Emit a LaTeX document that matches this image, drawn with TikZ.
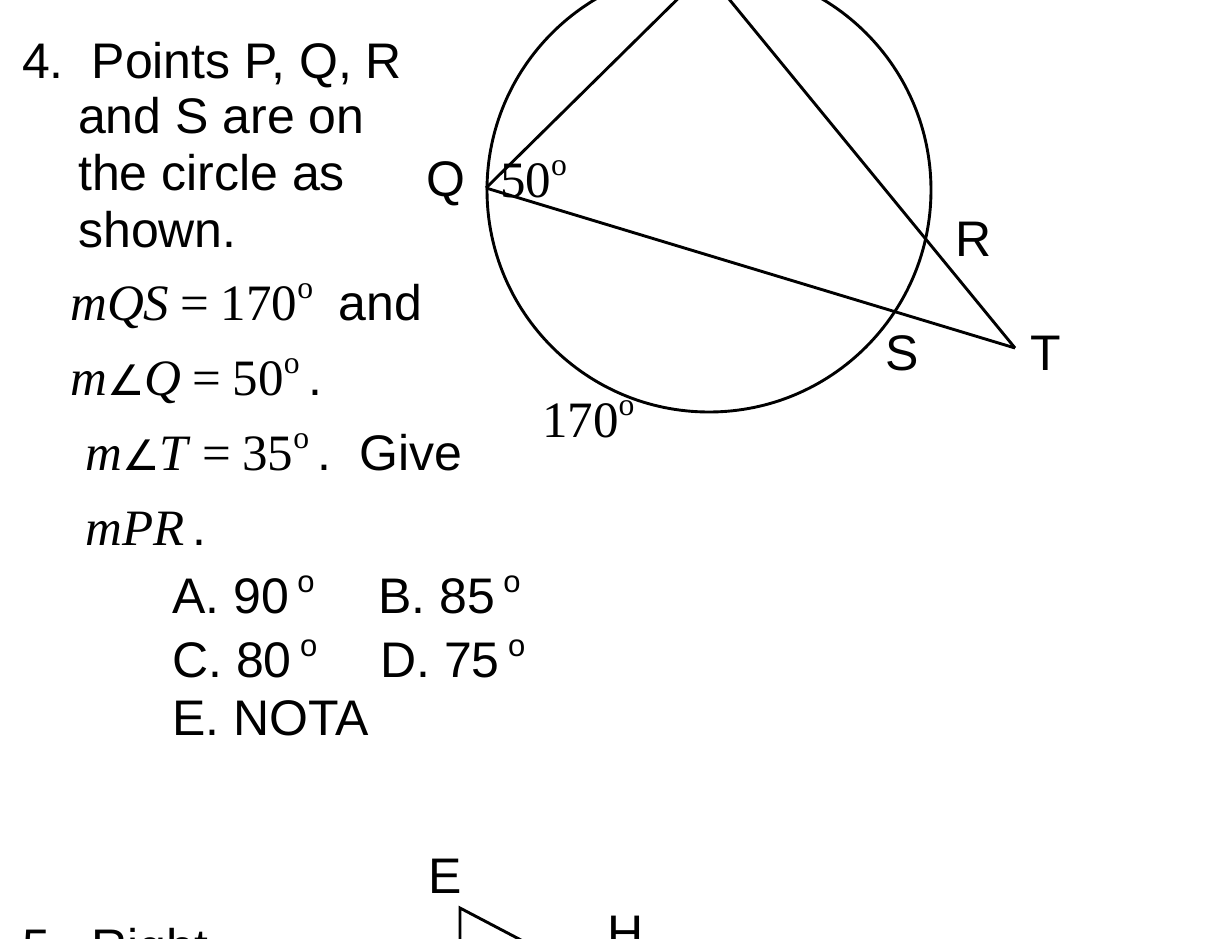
\documentclass[tikz,border=0pt]{standalone}
\usepackage{fontspec}
\setmainfont{Liberation Sans}
\newfontfamily\tnr{Liberation Serif}
\newfontfamily\dvs{DejaVu Sans}
\newcommand\dg{\raisebox{0.42em}{\scalebox{0.62}{o}}}
\newcommand\sx{\normalfont\fontsize{50bp}{58bp}\selectfont}
\newcommand\ang{{\dvs\fontsize{42bp}{58bp}\selectfont ∠}}
\begin{document}
\begin{tikzpicture}[x=1bp,y=-1bp,
  txt/.style={font=\fontsize{50bp}{58bp}\selectfont, inner sep=0pt, anchor=base west},
  mth/.style={font=\fontsize{51bp}{58bp}\selectfont\tnr, inner sep=0pt, anchor=base west},
  geo/.style={line width=2.9bp, line join=miter}]
\useasboundingbox (0,0) rectangle (1219,939);
\clip (0,0) rectangle (1219,939);
\fill[white] (0,0) rectangle (1219,939);
% question 4 text
\node[txt] (t1) at (22,78) {4.\ \ Points P, Q, R};
\node[txt] (t2) at (78,133) {and S are on};
\node[txt] (t3) at (78,190) {the circle as};
\node[txt] (t4) at (78,247) {shown.};
\node[mth] (t5) at (70,320) {\textit{mQS}\:=\:170\dg\ \ \sx and};
\node[mth] (t6) at (70,395) {\textit{m}\ang\textit{Q}\:=\:50\dg\,\sx .};
\node[mth] (t7) at (85,470) {\textit{m}\ang\textit{T}\:=\:35\dg\,\sx .\ \ Give};
\node[mth] (t8) at (85,545) {\textit{mPR}\,\sx .};
\node[txt] (oa) at (172,613) {A. 90\,\dg};
\node[txt] (ob) at (378,613) {B. 85\,\dg};
\node[txt] (oc) at (172,677) {C. 80\,\dg};
\node[txt] (od) at (380,677) {D. 75\,\dg};
\node[txt] (oe) at (172,735) {E. NOTA};
% figure
\coordinate (O) at (709,190);
\coordinate (P) at (706,-29);
\coordinate (Q) at (486,188);
\coordinate (T) at (1015,348);
\draw[geo] (O) circle[radius=222];
\draw[geo] (Q) -- (P) -- (T);
\draw[geo] (Q) -- (T);
\node[txt] (lQ) at (426,196) {Q};
\node[mth] (a50) at (500,197) {50\dg};
\node[txt] (lR) at (955,256) {R};
\node[txt] (lS) at (885,370) {S};
\node[txt] (lT) at (1030,370) {T};
\node[mth] (a170) at (542,437) {170\dg};
% question 5 (cut off)
\node[txt] (lE) at (428,893) {E};
\node[txt] (lH) at (607,950) {H};
\node[txt] (t9) at (22,964) {5.\ \ Right};
\coordinate (E1) at (460,908);
\coordinate (E2) at (460,960);
\coordinate (E3) at (540,950);
\draw[geo] (E2) -- (E1) -- (E3);
\end{tikzpicture}
\end{document}
